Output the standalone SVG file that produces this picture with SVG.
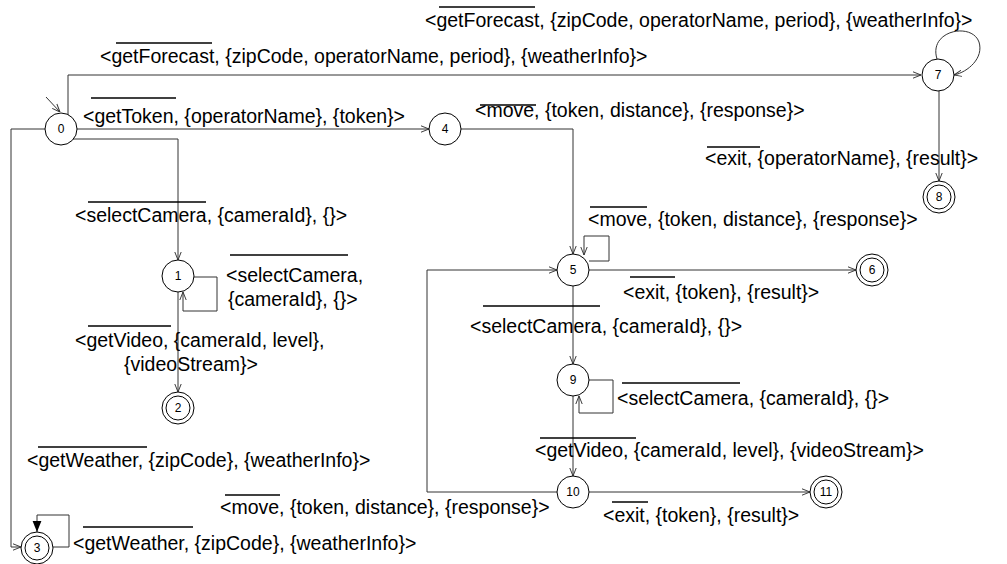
<svg xmlns="http://www.w3.org/2000/svg" width="1007" height="564" viewBox="0 0 1007 564">
<style>
.e{fill:none;stroke:#333;stroke-width:1}
.n{fill:#fff;stroke:#000;stroke-width:1}
.t{font-family:"Liberation Sans",Arial,sans-serif;font-size:19.5px;fill:#000}
.nt{font-family:"Liberation Sans",Arial,sans-serif;font-size:12px;fill:#000;text-anchor:middle}
.o{stroke:#000;stroke-width:1.5}
</style>
<defs>
<marker id="a" viewBox="0 0 10 10" refX="10" refY="5" markerWidth="8" markerHeight="8" markerUnits="userSpaceOnUse" orient="auto"><path d="M0,1 L10,5 L0,9" fill="none" stroke="#333" stroke-width="1.2"/></marker>
<marker id="f" viewBox="0 0 10 10" refX="10" refY="5" markerWidth="11" markerHeight="11" markerUnits="userSpaceOnUse" orient="auto"><path d="M0,1 L10,5 L0,9 Z" fill="#000"/></marker>
</defs>
<g id="connectors">
<path class="e" d="M46,97 L60,112" marker-end="url(#a)"/>
<path class="e" d="M68,115 V75 H921" marker-end="url(#a)"/>
<path class="e" d="M937,59 C928,30 972,22 979,42 C984,58 968,72 954,75" marker-end="url(#a)"/>
<path class="e" d="M939,91 V181" marker-end="url(#a)"/>
<path class="e" d="M77,129 H429" marker-end="url(#a)"/>
<path class="e" d="M73,139 H178 V260" marker-end="url(#a)"/>
<path class="e" d="M194,277 H217 V311 H183 V292" marker-end="url(#a)"/>
<path class="e" d="M178,292 V392" marker-end="url(#a)"/>
<path class="e" d="M45,129 H11 V547 H21" marker-end="url(#a)"/>
<path class="e" d="M53,547 H69 V515 H37 V532" marker-end="url(#f)"/>
<path class="e" d="M461,129 H573 V254" marker-end="url(#a)"/>
<path class="e" d="M589,261 H609 V236 H584 V255" marker-end="url(#a)"/>
<path class="e" d="M589,270 H856" marker-end="url(#a)"/>
<path class="e" d="M573,286 V364" marker-end="url(#a)"/>
<path class="e" d="M589,380 H613 V413 H579 V396" marker-end="url(#a)"/>
<path class="e" d="M573,396 V476" marker-end="url(#a)"/>
<path class="e" d="M589,492 H810" marker-end="url(#a)"/>
<path class="e" d="M557,492 H427 V270 H557" marker-end="url(#a)"/>
</g>
<g id="labels">
<text class="t" x="425" y="27">&lt;getForecast, {zipCode, operatorName, period}, {weatherInfo}&gt;</text>
<line class="o" x1="439" y1="7" x2="535" y2="7"/>
<text class="t" x="100" y="63">&lt;getForecast, {zipCode, operatorName, period}, {weatherInfo}&gt;</text>
<line class="o" x1="116" y1="43" x2="212" y2="43"/>
<text class="t" x="83" y="123">&lt;getToken, {operatorName}, {token}&gt;</text>
<line class="o" x1="91" y1="98" x2="176" y2="98"/>
<text class="t" x="475" y="117">&lt;move, {token, distance}, {response}&gt;</text>
<line class="o" x1="480" y1="105" x2="536" y2="105"/>
<text class="t" x="705" y="165">&lt;exit, {operatorName}, {result}&gt;</text>
<line class="o" x1="707" y1="147" x2="760" y2="147"/>
<text class="t" x="75" y="222">&lt;selectCamera, {cameraId}, {}&gt;</text>
<line class="o" x1="88" y1="202" x2="206" y2="202"/>
<text class="t" x="226" y="282">&lt;selectCamera,</text>
<text class="t" x="228" y="306">{cameraId}, {}&gt;</text>
<line class="o" x1="230" y1="255" x2="348" y2="255"/>
<text class="t" x="75" y="347">&lt;getVideo, {cameraId, level},</text>
<text class="t" x="124" y="371">{videoStream}&gt;</text>
<line class="o" x1="88" y1="326" x2="171" y2="326"/>
<text class="t" x="588" y="226">&lt;move, {token, distance}, {response}&gt;</text>
<line class="o" x1="590" y1="207" x2="647" y2="207"/>
<text class="t" x="623" y="299">&lt;exit, {token}, {result}&gt;</text>
<line class="o" x1="630" y1="277" x2="675" y2="277"/>
<text class="t" x="470" y="333">&lt;selectCamera, {cameraId}, {}&gt;</text>
<line class="o" x1="483" y1="306" x2="600" y2="306"/>
<text class="t" x="617" y="405">&lt;selectCamera, {cameraId}, {}&gt;</text>
<line class="o" x1="622" y1="383" x2="740" y2="383"/>
<text class="t" x="535" y="457">&lt;getVideo, {cameraId, level}, {videoStream}&gt;</text>
<line class="o" x1="540" y1="438" x2="636" y2="438"/>
<text class="t" x="220" y="514">&lt;move, {token, distance}, {response}&gt;</text>
<line class="o" x1="225" y1="495" x2="280" y2="495"/>
<text class="t" x="603" y="522">&lt;exit, {token}, {result}&gt;</text>
<line class="o" x1="612" y1="502" x2="648" y2="502"/>
<text class="t" x="27" y="467">&lt;getWeather, {zipCode}, {weatherInfo}&gt;</text>
<line class="o" x1="38" y1="447" x2="147" y2="447"/>
<text class="t" x="73" y="550">&lt;getWeather, {zipCode}, {weatherInfo}&gt;</text>
<line class="o" x1="83" y1="527" x2="193" y2="527"/>
</g>
<g id="n0"><circle class="n" cx="61" cy="129" r="16"/><text class="nt" x="61" y="133">0</text></g>
<g id="n1"><circle class="n" cx="178" cy="276" r="16"/><text class="nt" x="178" y="280">1</text></g>
<g id="n2"><circle class="n" cx="178" cy="408" r="16"/><circle class="n" cx="178" cy="408" r="12"/><text class="nt" x="178" y="412">2</text></g>
<g id="n3"><circle class="n" cx="37" cy="548" r="16"/><circle class="n" cx="37" cy="548" r="12"/><text class="nt" x="37" y="552">3</text></g>
<g id="n4"><circle class="n" cx="445" cy="129" r="16"/><text class="nt" x="445" y="133">4</text></g>
<g id="n5"><circle class="n" cx="573" cy="270" r="16"/><text class="nt" x="573" y="274">5</text></g>
<g id="n6"><circle class="n" cx="872" cy="270" r="16"/><circle class="n" cx="872" cy="270" r="12"/><text class="nt" x="872" y="274">6</text></g>
<g id="n7"><circle class="n" cx="938" cy="75" r="16"/><text class="nt" x="938" y="79">7</text></g>
<g id="n8"><circle class="n" cx="939" cy="197" r="16"/><circle class="n" cx="939" cy="197" r="12"/><text class="nt" x="939" y="201">8</text></g>
<g id="n9"><circle class="n" cx="573" cy="380" r="16"/><text class="nt" x="573" y="384">9</text></g>
<g id="n10"><circle class="n" cx="573" cy="492" r="16"/><text class="nt" x="573" y="496">10</text></g>
<g id="n11"><circle class="n" cx="826" cy="492" r="16"/><circle class="n" cx="826" cy="492" r="12"/><text class="nt" x="826" y="496">11</text></g>
</svg>
